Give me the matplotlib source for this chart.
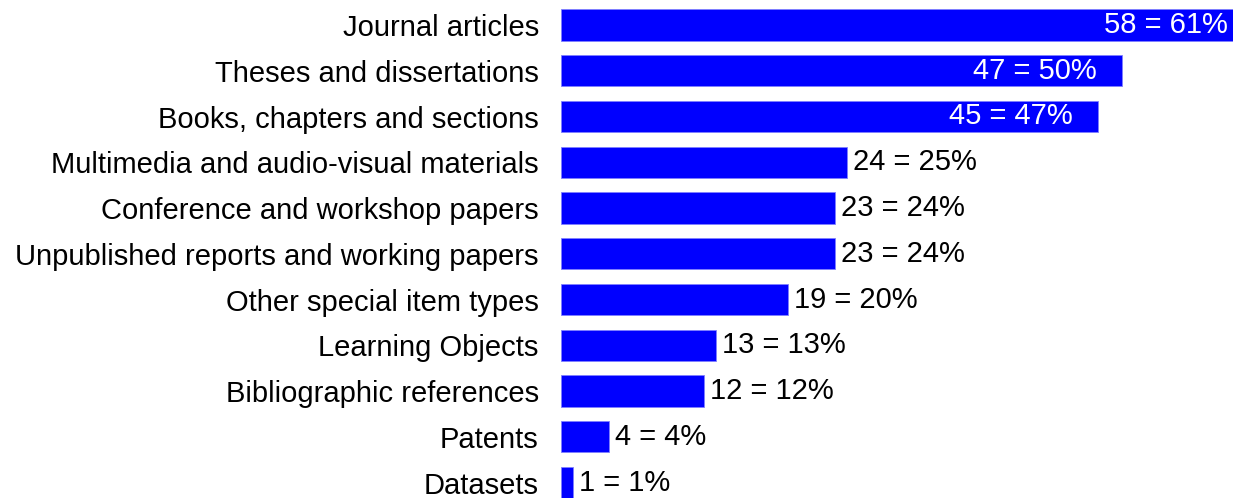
import matplotlib
matplotlib.use("Agg")
import matplotlib.pyplot as plt

categories = [
    "Journal articles",
    "Theses and dissertations",
    "Books, chapters and sections",
    "Multimedia and audio-visual materials",
    "Conference and workshop papers",
    "Unpublished reports and working papers",
    "Other special item types",
    "Learning Objects",
    "Bibliographic references",
    "Patents",
    "Datasets",
]
counts = [58, 47, 45, 24, 23, 23, 19, 13, 12, 4, 1]
percents = [61, 50, 47, 25, 24, 24, 20, 13, 12, 4, 1]

W, H = 1245, 498
fig = plt.figure(figsize=(W / 100, H / 100), dpi=100)
left_px, right_px = 561, 1233
ax = fig.add_axes([left_px / W, 0, (right_px - left_px) / W, 1])

px_per_unit = 11.93
xmax = (right_px - left_px) / px_per_unit
row_px = 45.75
top_px = 25
ax.set_xlim(0, xmax)
ax.set_ylim((H - top_px) / row_px, -top_px / row_px)

ypos = list(range(len(categories)))
ax.barh(ypos, counts, height=0.68, color="#0000ff", edgecolor="#8080ff",
        linewidth=0.6, clip_on=True)

fontfam = "Liberation Sans"
fs = 21
for y, c, p in zip(ypos, counts, percents):
    label = f"{c} = {p}%"
    if c >= 40:
        ax.text(min(c - 2.1, xmax - 0.4), y, label, ha="right", va="center",
                color="white", fontsize=fs, family=fontfam)
    else:
        ax.text(c + 0.5, y, label, ha="left", va="center",
                color="black", fontsize=fs, family=fontfam)

ax.set_yticks(ypos)
ax.set_yticklabels(categories, fontsize=fs, family=fontfam)
ax.tick_params(axis="y", length=0, pad=16)
ax.set_xticks([])
for s in ax.spines.values():
    s.set_visible(False)

fig.savefig("out.png", dpi=100)
